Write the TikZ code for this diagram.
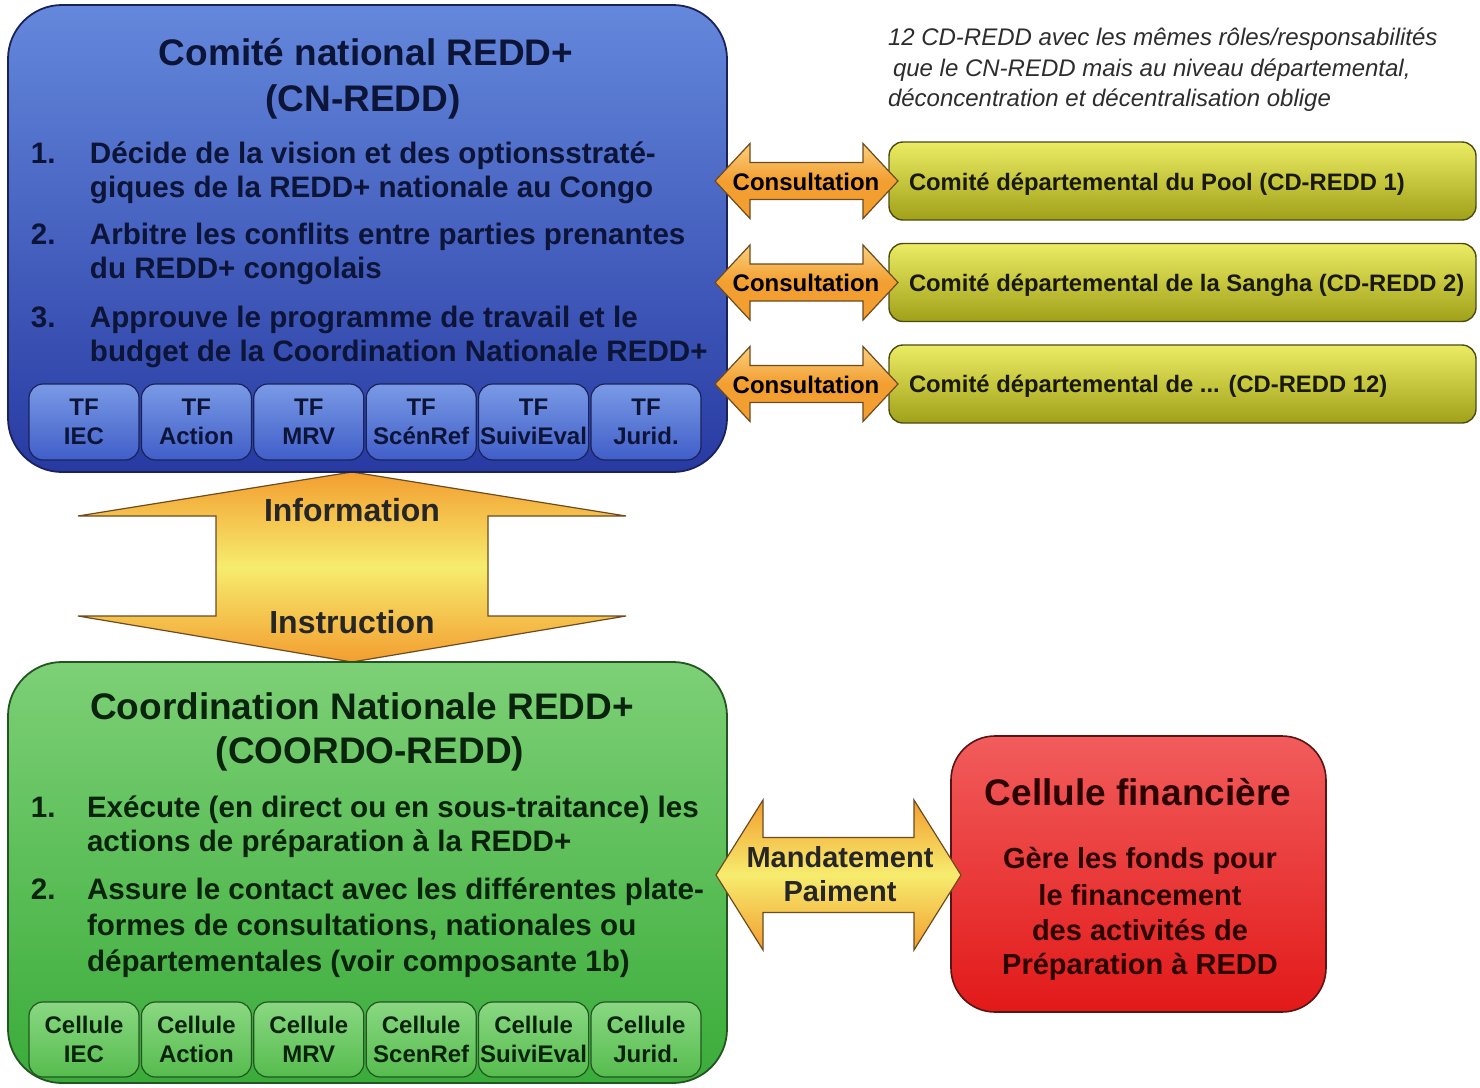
\documentclass[tikz,border=0pt]{standalone}
\usepackage{fontspec}
\setmainfont{Liberation Sans}
\newcommand\myfs[2]{\fontsize{#1}{#2}\selectfont}
\definecolor{blueT}{RGB}{100,136,220}
\definecolor{blueB}{RGB}{40,58,162}
\definecolor{blueLine}{RGB}{25,35,90}
\definecolor{tfT}{RGB}{122,154,230}
\definecolor{tfB}{RGB}{64,94,200}
\definecolor{navytext}{RGB}{12,20,55}
\definecolor{greenT}{RGB}{125,208,118}
\definecolor{greenB}{RGB}{58,172,58}
\definecolor{greenLine}{RGB}{35,85,35}
\definecolor{cellT}{RGB}{138,216,130}
\definecolor{cellB}{RGB}{86,188,78}
\definecolor{greentext}{RGB}{10,35,12}
\definecolor{yelT}{RGB}{236,236,100}
\definecolor{yelB}{RGB}{160,160,25}
\definecolor{yelLine}{RGB}{75,75,20}
\definecolor{yeltext}{RGB}{25,25,0}
\definecolor{redT}{RGB}{242,92,92}
\definecolor{redB}{RGB}{226,25,25}
\definecolor{redLine}{RGB}{90,20,20}
\definecolor{redtext}{RGB}{45,0,0}
\definecolor{orng}{RGB}{243,158,48}
\definecolor{lightorng}{RGB}{250,208,125}
\definecolor{yel}{RGB}{246,236,110}
\definecolor{arrowLine}{RGB}{110,75,30}
\definecolor{notetext}{RGB}{45,45,45}
% double horizontal block arrow: style, xl, xr, yc, headlen, headhalf, shafthalf
\newcommand\dblharrow[7]{%
 \draw[#1] (#2,#4) -- ({#2+#5},{#4-#6}) -- ({#2+#5},{#4-#7}) -- ({#3-#5},{#4-#7})
   -- ({#3-#5},{#4-#6}) -- (#3,#4) -- ({#3-#5},{#4+#6}) -- ({#3-#5},{#4+#7})
   -- ({#2+#5},{#4+#7}) -- ({#2+#5},{#4+#6}) -- cycle;}
\begin{document}
\begin{tikzpicture}[x=0.5pt,y=-0.5pt,
 every node/.style={inner sep=0pt, outer sep=0pt},
 cnbox/.style={draw=blueLine, line width=0.9pt, rounded corners=27pt, top color=blueT, bottom color=blueB},
 tfbox/.style={draw=blueLine, line width=0.6pt, rounded corners=7pt, top color=tfT, bottom color=tfB,
   minimum width=55pt, minimum height=38pt, align=center, text=navytext, font=\bfseries\myfs{12}{14.5}},
 coordobox/.style={draw=greenLine, line width=0.9pt, rounded corners=27pt, top color=greenT, bottom color=greenB},
 cellbox/.style={draw=greenLine, line width=0.6pt, rounded corners=7pt, top color=cellT, bottom color=cellB,
   minimum width=55pt, minimum height=37.5pt, align=center, text=greentext, font=\bfseries\myfs{12}{14.5}},
 cdbox/.style={draw=yelLine, line width=0.7pt, rounded corners=7pt, top color=yelT, bottom color=yelB,
   minimum width=293.5pt, minimum height=39pt},
 cdtext/.style={anchor=base west, text=yeltext, font=\bfseries\myfs{11.9}{14}},
 redbox/.style={draw=redLine, line width=0.8pt, rounded corners=22pt, top color=redT, bottom color=redB,
   minimum width=187.5pt, minimum height=138pt},
 bigtitle/.style={anchor=base, font=\bfseries\myfs{18.5}{22}},
 itemtext/.style={anchor=base west, font=\bfseries\myfs{14.8}{17}},
 notestyle/.style={anchor=base west, text=notetext, font=\itshape\myfs{12}{15}},
 arrowlbl/.style={anchor=base, text=black, font=\bfseries\myfs{12}{14}},
 infoarrow/.style={draw=arrowLine, line width=0.6pt, top color=orng, bottom color=orng, middle color=yel},
 consarrow/.style={draw=arrowLine, line width=0.6pt, top color=lightorng, bottom color=orng, middle color=orng},
 mandarrow/.style={draw=arrowLine, line width=0.6pt, top color=orng, bottom color=orng, middle color=yel}
]
\useasboundingbox (0,0) rectangle (1480,1088);
\fill[white] (0,0) rectangle (1480,1088);

% ---------- Information / Instruction arrow ----------
\draw[infoarrow] (352,472) -- (626,516) -- (488,516) -- (488,616) -- (626,616) -- (352,662)
  -- (78,616) -- (216,616) -- (216,516) -- (78,516) -- cycle;

% ---------- CN-REDD box ----------
\node[cnbox, minimum width=359.5pt, minimum height=233.5pt] (cn) at (367.5,238.5) {};
\node[bigtitle, text=navytext] (cnt1) at (366,65.5) {Comité national REDD+};
\node[bigtitle, text=navytext] (cnt2) at (363,111.5) {(CN-REDD)};
\begin{scope}[every node/.append style={text=navytext}]
\node[itemtext] (cn1n) at (31,163) {1.};
\node[itemtext] (cn1a) at (90,163) {Décide de la vision et des optionsstraté-};
\node[itemtext] (cn1b) at (90,197) {giques de la REDD+ nationale au Congo};
\node[itemtext] (cn2n) at (31,244) {2.};
\node[itemtext] (cn2a) at (90,244) {Arbitre les conflits entre parties prenantes};
\node[itemtext] (cn2b) at (90,278) {du REDD+ congolais};
\node[itemtext] (cn3n) at (31,327) {3.};
\node[itemtext] (cn3a) at (90,327) {Approuve le programme de travail et le};
\node[itemtext] (cn3b) at (90,361) {budget de la Coordination Nationale REDD+};
\end{scope}
\foreach \i/\t in {0/IEC,1/Action,2/MRV,3/ScénRef,4/SuiviEval,5/Jurid.}
  \node[tfbox] (tf\i) at ({84+112.4*\i},422) {TF\\\t};

% ---------- COORDO-REDD box ----------
\node[coordobox, minimum width=359.5pt, minimum height=210.5pt] (coordo) at (367.5,872.5) {};
\node[bigtitle, text=greentext] (cot1) at (362,719.5) {Coordination Nationale REDD+};
\node[bigtitle, text=greentext] (cot2) at (370,763.5) {(COORDO-REDD)};
\begin{scope}[every node/.append style={text=greentext}]
\node[itemtext] (co1n) at (31,817) {1.};
\node[itemtext] (co1a) at (87,817) {Exécute (en direct ou en sous-traitance) les};
\node[itemtext] (co1b) at (87,851) {actions de préparation à la REDD+};
\node[itemtext] (co2n) at (31,899) {2.};
\node[itemtext] (co2a) at (87,899) {Assure le contact avec les différentes plate-};
\node[itemtext] (co2b) at (87,935) {formes de consultations, nationales ou};
\node[itemtext] (co2c) at (87,971) {départementales (voir composante 1b)};
\end{scope}
\foreach \i/\t in {0/IEC,1/Action,2/MRV,3/ScenRef,4/SuiviEval,5/Jurid.}
  \node[cellbox] (cell\i) at ({84+112.4*\i},1039.5) {Cellule\\\t};

% ---------- note ----------
\node[notestyle] (note1) at (888,45.5) {12 CD-REDD avec les mêmes rôles/responsabilités};
\node[notestyle] (note2) at (893,76.5) {que le CN-REDD mais au niveau départemental,};
\node[notestyle] (note3) at (888,106.5) {déconcentration et décentralisation oblige};

% ---------- CD-REDD boxes ----------
\node[cdbox] (cd1) at (1182.5,181) {};
\node[cdbox] (cd2) at (1182.5,282.5) {};
\node[cdbox] (cd3) at (1182.5,384) {};
\node[cdtext] (cd1t) at (909,190.5) {Comité départemental du Pool (CD-REDD 1)};
\node[cdtext] (cd2t) at (909,291.5) {Comité départemental de la Sangha (CD-REDD 2)};
\node[cdtext] (cd3t) at (909,392.5) {Comité départemental de ... (CD-REDD 12)};

% ---------- Consultation arrows ----------
\dblharrow{consarrow}{715}{898}{181}{35}{37.5}{18.5}
\dblharrow{consarrow}{715}{898}{282.5}{35}{37.5}{18.5}
\dblharrow{consarrow}{715}{898}{384}{35}{37.5}{18.5}
\node[arrowlbl] (cons1) at (806,190) {Consultation};
\node[arrowlbl] (cons2) at (806,291.5) {Consultation};
\node[arrowlbl] (cons3) at (806,393) {Consultation};

% ---------- Information labels ----------
\node[anchor=base, font=\bfseries\myfs{16}{19}, text=black!85] (info) at (352,521.5) {Information};
\node[anchor=base, font=\bfseries\myfs{16}{19}, text=black!85] (instr) at (352,633.5) {Instruction};

% ---------- Cellule financière ----------
\node[redbox] (fin) at (1138.5,874) {};
\node[bigtitle, text=redtext] (fint) at (1138,805.5) {Cellule financière};
\begin{scope}[every node/.style={anchor=base, text=redtext, font=\bfseries\myfs{14.5}{17}}]
\node (fin1) at (1140,868.5) {Gère les fonds pour};
\node (fin2) at (1140,905) {le financement};
\node (fin3) at (1140,940) {des activités de};
\node (fin4) at (1140,974) {Préparation à REDD};
\end{scope}

% ---------- Mandatement arrow ----------
\dblharrow{mandarrow}{716}{961}{875}{47}{75}{37.5}
\node[anchor=base, font=\bfseries\myfs{14.5}{17}, text=black!85] (mand1) at (840,867.5) {Mandatement};
\node[anchor=base, font=\bfseries\myfs{14.5}{17}, text=black!85] (mand2) at (840,901.5) {Paiment};
\end{tikzpicture}
\end{document}
